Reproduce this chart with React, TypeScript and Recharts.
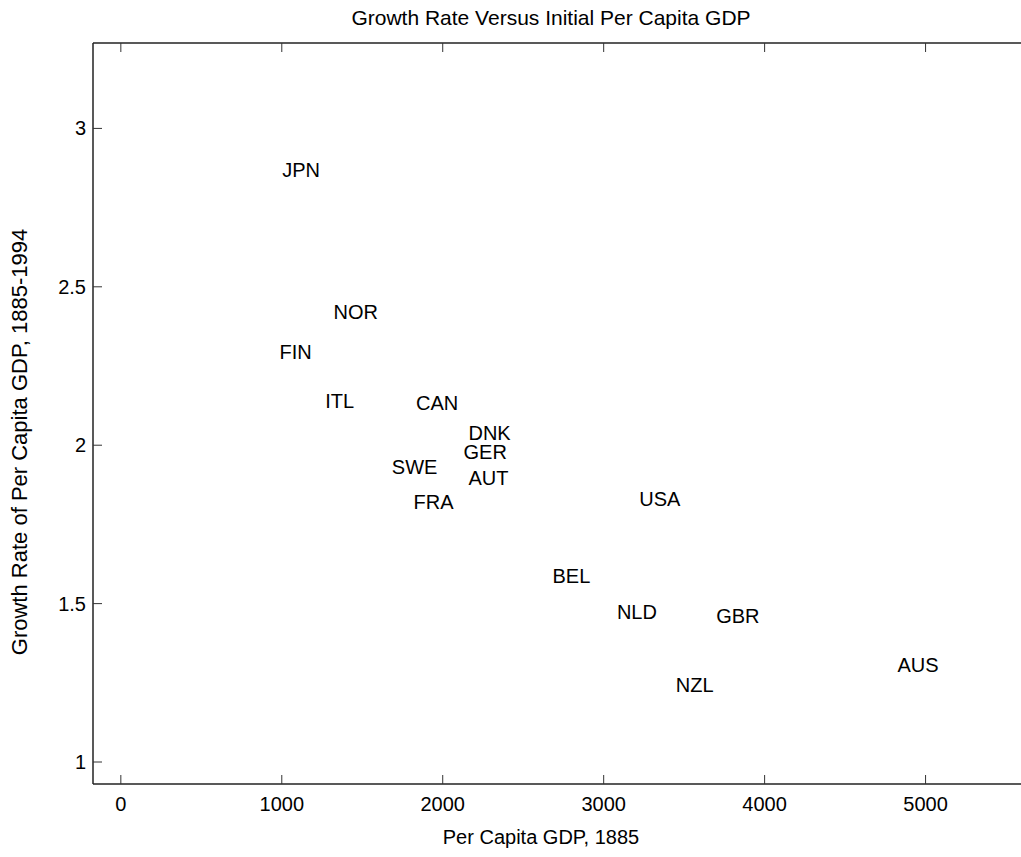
import { ScatterChart, Scatter, XAxis, YAxis } from 'recharts';

// country codes with 1885 per capita GDP and growth rate 1885-1994
const countries = ['JPN', 'NOR', 'FIN', 'ITL', 'CAN', 'DNK', 'GER', 'SWE', 'AUT', 'FRA', 'USA', 'BEL', 'NLD', 'GBR', 'NZL', 'AUS'];
const gdp1885 = [1003, 1322, 986, 1270, 1834, 2160, 2129, 1684, 2160, 1819, 3221, 2682, 3082, 3699, 3448, 4825];
const growthRate = [2.87, 2.42, 2.294, 2.14, 2.132, 2.039, 1.98, 1.932, 1.895, 1.82, 1.83, 1.587, 1.475, 1.461, 1.244, 1.307];

const xTicks = [0, 1000, 2000, 3000, 4000, 5000];
const yTicks = [1, 1.5, 2, 2.5, 3];

const FONT = '"Liberation Sans", Arial, sans-serif';
const TICK_LEN = 9;

const points = countries.map((name, i) => ({ name, x: gdp1885[i], y: growthRate[i] }));

const BottomTick = (props: any) => {
  const { x, y, payload } = props;
  return (
    <g>
      <line x1={x} x2={x} y1={y} y2={y - TICK_LEN} stroke="#333" strokeWidth={1} />
      <text x={x} y={y + 20} textAnchor="middle" dominantBaseline="central" fontSize={20} fontFamily={FONT} fill="#000">
        {payload.value}
      </text>
    </g>
  );
};

const TopTick = (props: any) => {
  const { x, y } = props;
  return <line x1={x} x2={x} y1={y} y2={y + TICK_LEN} stroke="#333" strokeWidth={1} />;
};

const LeftTick = (props: any) => {
  const { x, y, payload } = props;
  return (
    <g>
      <line x1={x} x2={x + TICK_LEN} y1={y} y2={y} stroke="#333" strokeWidth={1} />
      <text x={x - 7} y={y} textAnchor="end" dominantBaseline="central" fontSize={20} fontFamily={FONT} fill="#000">
        {payload.value}
      </text>
    </g>
  );
};

const CountryLabel = (props: any) => {
  const { cx, cy, payload } = props;
  return (
    <text x={cx} y={cy} textAnchor="start" dominantBaseline="central" fontSize={20} fontFamily={FONT} fill="#000">
      {payload.name}
    </text>
  );
};

const App = () => {
  return (
    <div style={{ position: 'absolute', left: 0, top: 0, width: 1021, height: 857, overflow: 'hidden' }}>
      <style>{'body { overflow: hidden; }'}</style>
      <ScatterChart width={1040} height={857} margin={{ top: 13, right: 0, bottom: 0, left: 0 }}>
        <XAxis
          xAxisId="bottom"
          type="number"
          dataKey="x"
          domain={[-173, 5711]}
          ticks={xTicks}
          allowDataOverflow
          height={73}
          tickSize={0}
          tickMargin={0}
          tickLine={false}
          axisLine={{ stroke: '#222', strokeWidth: 1.5 }}
          tick={<BottomTick />}
        />
        <XAxis
          xAxisId="top"
          orientation="top"
          type="number"
          dataKey="x"
          domain={[-173, 5711]}
          ticks={xTicks}
          allowDataOverflow
          height={30}
          tickSize={0}
          tickMargin={0}
          tickLine={false}
          axisLine={{ stroke: '#222', strokeWidth: 1.5 }}
          tick={<TopTick />}
        />
        <YAxis
          type="number"
          dataKey="y"
          domain={[0.9306, 3.2696]}
          ticks={yTicks}
          allowDataOverflow
          width={93}
          tickSize={0}
          tickMargin={0}
          tickLine={false}
          axisLine={{ stroke: '#222', strokeWidth: 1.5 }}
          tick={<LeftTick />}
        />
        <Scatter
          xAxisId="bottom"
          data={points}
          isAnimationActive={false}
          shape={<CountryLabel />}
        />
        <text x={551} y={17} textAnchor="middle" dominantBaseline="central" fontSize={21} fontFamily={FONT} fill="#000">
          Growth Rate Versus Initial Per Capita GDP
        </text>
        <text
          x={19.5}
          y={442}
          textAnchor="middle"
          dominantBaseline="central"
          fontSize={22}
          fontFamily={FONT}
          fill="#000"
          transform="rotate(-90 19.5 442)"
        >
          Growth Rate of Per Capita GDP, 1885-1994
        </text>
        <text x={541} y={837} textAnchor="middle" dominantBaseline="central" fontSize={20} fontFamily={FONT} fill="#000">
          Per Capita GDP, 1885
        </text>
      </ScatterChart>
    </div>
  );
};

export default App;
